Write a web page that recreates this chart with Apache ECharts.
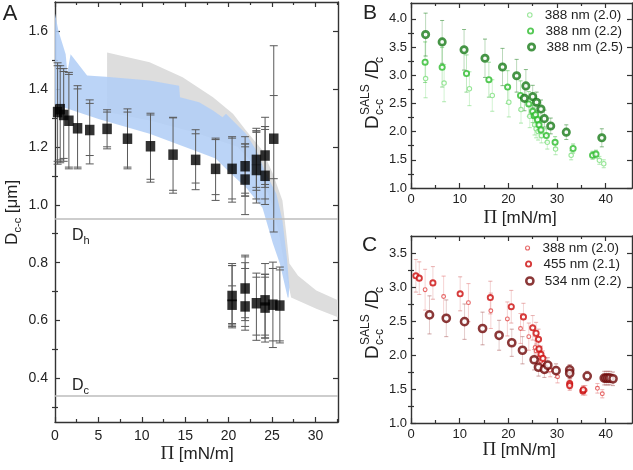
<!DOCTYPE html>
<html><head><meta charset="utf-8">
<script src="https://cdn.jsdelivr.net/npm/echarts@6/dist/echarts.min.js"></script>
<style>html,body{margin:0;padding:0;background:#fff}#c{width:633px;height:470px}</style>
</head><body><div id="c"></div>
<script>
// ---------- Panel A data ----------
const aX  = [0.3,0.6,1.0,1.6,2.6,4.0,6.0,8.35,11.0,13.6,16.2,18.5,20.4,21.9,21.9,23.2,23.2,24.2,24.2,25.2, 20.4,20.4,21.9,21.9,23.2,24.2,24.2,25.1,25.9];
const aY  = [1.32,1.33,1.31,1.29,1.264,1.258,1.262,1.228,1.202,1.173,1.155,1.124,1.124,1.133,1.087,1.155,1.12,1.17,1.10,1.228, 0.685,0.655,0.711,0.649,0.66,0.67,0.645,0.655,0.652];
const aLo = [1.14,1.145,1.15,1.124,1.124,1.141,1.193,1.124,1.078,1.04,1.052,1.015,1.009,0.966,1.03,1.006,1.05,1.001,1.06,0.906, 0.58,0.575,0.567,0.60,0.532,0.526,0.54,0.507,0.523];
const aHi = [1.49,1.48,1.47,1.457,1.411,1.362,1.328,1.331,1.316,1.302,1.259,1.23,1.235,1.235,1.21,1.264,1.255,1.302,1.27,1.549, 0.797,0.79,0.826,0.80,0.764,0.797,0.76,0.802,0.785];
const aLo2 = [1.15,1.155,1.16,1.13,1.13,1.17,1.2,1.13,1.088,1.05,1.075,1.035,1.02,1.03,1.04,1.02,1.06,1.02,1.07,1.09, 0.585,0.59,0.58,0.61,0.55,0.54,0.55,0.53,0.53];
const aHi2 = [1.48,1.47,1.46,1.45,1.40,1.35,1.32,1.32,1.31,1.30,1.245,1.225,1.23,1.21,1.20,1.255,1.25,1.27,1.26,1.377, 0.79,0.72,0.82,0.78,0.75,0.76,0.75,0.78,0.775];

const grayUpX = [6.0, 6.0, 10.9, 14.7, 18.2, 20.5, 22.0, 23.9, 25.1, 26.2, 26.6, 27.0, 28.0, 30.1, 32.6];
const grayUpY = [1.32, 1.526, 1.492, 1.44, 1.371, 1.314, 1.256, 1.187, 1.107, 1.015, 0.911, 0.797, 0.755, 0.704, 0.67];
const grayLoX = [32.6, 30.1, 27.2, 26.5, 25.8, 25.0, 23.5, 21.0, 16.0, 11.0];
const grayLoY = [0.612, 0.641, 0.68, 0.78, 0.90, 1.0, 1.12, 1.2, 1.25, 1.29];

const blueUpX = [0, 0.4, 1.23, 1.42, 1.8, 3.7, 5.85, 8.9, 10.9, 14.3, 14.4, 16.6, 18.2, 19.3, 19.7, 20.5, 22.0, 23.2, 24.3, 25.5, 26.2, 26.7, 27.0, 26.9];
const blueUpY = [1.66, 1.60, 1.52, 1.457, 1.52, 1.446, 1.442, 1.434, 1.429, 1.411, 1.371, 1.354, 1.325, 1.302, 1.314, 1.29, 1.245, 1.187, 1.107, 1.038, 0.946, 0.82, 0.716, 0.68];
const blueLoX = [26.8, 25.9, 25.1, 23.9, 22.0, 20.1, 18.5, 16.6, 10.9, 5.1, 0];
const blueLoY = [0.68, 0.797, 0.866, 0.99, 1.06, 1.112, 1.16, 1.181, 1.245, 1.295, 1.346];

const hLineVals = [0.952, 0.34];

// ---------- Panel B data ----------
const b20X = [3.0, 6.8, 12.0, 16.7, 20.1, 22.6, 24.4, 25.4, 25.7, 26.1, 26.8, 28.0, 29.7, 32.9, 38.7, 39.6];
const b20Y = [2.94, 2.86, 2.76, 2.64, 2.52, 2.39, 2.27, 2.12, 2.05, 2.0, 1.93, 1.81, 1.69, 1.58, 1.49, 1.43];
const b20E = [0.34, 0.33, 0.3, 0.28, 0.26, 0.24, 0.2, 0.18, 0.16, 0.15, 0.13, 0.12, 0.1, 0.08, 0.07, 0.07];
const b22X = [2.9, 6.4, 11.4, 16.0, 19.85, 22.5, 24.2, 25.0, 25.3, 25.6, 26.0, 26.3, 26.7, 27.8, 29.6, 33.3, 37.3, 38.0];
const b22Y = [3.23, 3.14, 3.03, 2.92, 2.79, 2.64, 2.49, 2.36, 2.28, 2.30, 2.21, 2.12, 2.03, 1.93, 1.81, 1.70, 1.58, 1.60];
const b22E = [0.36, 0.35, 0.33, 0.31, 0.29, 0.26, 0.22, 0.2, 0.18, 0.18, 0.16, 0.15, 0.14, 0.12, 0.1, 0.08, 0.07, 0.07];
const b25X = [3.0, 6.4, 10.9, 15.2, 18.8, 21.7, 23.3, 23.6, 25.0, 25.8, 26.7, 27.4, 28.7, 31.9, 39.2];
const b25Y = [3.72, 3.59, 3.45, 3.30, 3.145, 2.99, 2.59, 2.81, 2.62, 2.52, 2.40, 2.23, 2.10, 1.99, 1.89];
const b25E = [0.38, 0.38, 0.36, 0.34, 0.33, 0.29, 0.22, 0.29, 0.2, 0.18, 0.16, 0.15, 0.14, 0.13, 0.16];

// ---------- Panel C data ----------
const c20X = [2.9, 6.7, 11.8, 16.4, 19.8, 22.5, 24.2, 25.5, 25.7, 26.4, 26.7, 27.5, 28.6, 30.1, 32.7, 35.8, 38.3, 39.3];
const c20Y = [2.96, 2.86, 2.77, 2.65, 2.53, 2.39, 2.27, 2.11, 2.06, 1.97, 1.91, 1.85, 1.78, 1.68, 1.58, 1.48, 1.51, 1.43];
const c20E = [0.3, 0.3, 0.28, 0.26, 0.25, 0.22, 0.2, 0.16, 0.15, 0.13, 0.12, 0.11, 0.1, 0.09, 0.08, 0.07, 0.07, 0.06];
const c21X = [1.0, 1.7, 4.5, 10.1, 16.3, 20.6, 23.1, 25.0, 25.7, 26.2, 26.3, 26.7, 27.1, 32.6, 32.6, 35.3, 35.4];
const c21Y = [3.165, 3.13, 3.06, 2.90, 2.845, 2.71, 2.56, 2.40, 2.32, 2.23, 2.09, 2.01, 1.95, 1.58, 1.55, 1.47, 1.49];
const c21E = [0.24, 0.24, 0.24, 0.25, 0.24, 0.24, 0.2, 0.18, 0.16, 0.15, 0.13, 0.12, 0.11, 0.07, 0.07, 0.06, 0.06];
const c22X = [3.8, 7.25, 11.0, 14.7, 18.1, 20.7, 22.9, 25.3, 26.2, 27.4, 28.1, 29.8, 32.6, 32.6, 36.2, 39.7, 40.1, 40.5, 40.9, 41.5];
const c22Y = [2.59, 2.54, 2.49, 2.39, 2.29, 2.18, 2.07, 1.93, 1.82, 1.79, 1.85, 1.77, 1.78, 1.73, 1.69, 1.66, 1.66, 1.66, 1.66, 1.65];
const c22E = [0.28, 0.27, 0.26, 0.24, 0.22, 0.2, 0.2, 0.15, 0.13, 0.12, 0.11, 0.1, 0.08, 0.08, 0.07, 0.1, 0.1, 0.1, 0.1, 0.1];

// ---------- Tick values ----------
const aXTicks = [0,5,10,15,20,25,30];
const aXMinor = [2.5,7.5,12.5,17.5,22.5,27.5,32.5];
const aYTicks = [0.4,0.6,0.8,1.0,1.2,1.4,1.6];
const aYMinor = [0.3,0.5,0.7,0.9,1.1,1.3,1.5];
const bcXTicks = [0,10,20,30,40];
const bcXMinor = [5,15,25,35];
const bYTicks = [1.0,1.5,2.0,2.5,3.0,3.5,4.0];
const bYMinor = [1.25,1.75,2.25,2.75,3.25,3.75];
const cYTicks = [1.0,1.5,2.0,2.5,3.0,3.5];
const cYMinor = [1.25,1.75,2.25,2.75,3.25];

const legendNames = {B20:'388 nm (2.0)', B22:'388 nm (2.2)', B25:'388 nm (2.5)', C20:'388 nm (2.0)', C21:'455 nm (2.1)', C22:'534 nm (2.2)'};

// ---------- Build ----------
const FONT = '"Liberation Sans", Arial, sans-serif';
const SERIF = '"Liberation Serif", "Times New Roman", serif';
const AX = '#333';
const xAxes = [], yAxes = [];
function addAxes(g, xr, yr, xMaj, xMin, yMaj, yMin, fs, yFmt, xm, ym) {
  const line = {show:true, onZero:false, lineStyle:{color:AX, width:1.4}};
  const tick = (vals, len) => ({show:true, inside:true, length:len, customValues:vals, lineStyle:{color:AX, width:1.2}});
  const lbl = (vals, fmt, m) => ({show:true, customValues:vals, formatter:fmt, fontSize:fs, color:'#222', fontFamily:FONT, margin:m});
  const base = (r) => ({type:'value', gridIndex:g, min:r[0], max:r[1], splitLine:{show:false}});
  xAxes.push(
    Object.assign(base(xr), {position:'bottom', axisLine:line, axisTick:tick(xMaj,5), axisLabel:lbl(xMaj, v=>String(v), xm)}),
    Object.assign(base(xr), {position:'top', axisLine:line, axisTick:tick(xMaj,5), axisLabel:{show:false}}),
    Object.assign(base(xr), {position:'bottom', axisLine:{show:false}, axisTick:tick(xMin,3), axisLabel:{show:false}}),
    Object.assign(base(xr), {position:'top', axisLine:{show:false}, axisTick:tick(xMin,3), axisLabel:{show:false}})
  );
  yAxes.push(
    Object.assign(base(yr), {position:'left', axisLine:line, axisTick:tick(yMaj,5), axisLabel:lbl(yMaj, yFmt, ym)}),
    Object.assign(base(yr), {position:'right', axisLine:line, axisTick:tick(yMaj,5), axisLabel:{show:false}}),
    Object.assign(base(yr), {position:'left', axisLine:{show:false}, axisTick:tick(yMin,3), axisLabel:{show:false}}),
    Object.assign(base(yr), {position:'right', axisLine:{show:false}, axisTick:tick(yMin,3), axisLabel:{show:false}})
  );
}
const f1 = v => v.toFixed(1);
addAxes(0, [0,32.6], [0.25,1.7], aXTicks, aXMinor, aYTicks, aYMinor, 14, f1, 7, 7);
addAxes(1, [0,45.4], [1.0,4.28], bcXTicks, bcXMinor, bYTicks, bYMinor, 13, f1, 5, 4);
addAxes(2, [0,45.4], [1.0,3.75], bcXTicks, bcXMinor, cYTicks, cYMinor, 13, f1, 5, 4);

function band(upX, upY, loX, loY, fill, ai, z) {
  const pts = upX.map((x,i)=>[x, upY[i]]).concat(loX.map((x,i)=>[x, loY[i]]));
  return {type:'custom', xAxisIndex:ai, yAxisIndex:ai, z:z, silent:true, data:[[pts[0][0], pts[0][1]]],
    renderItem:(p, api) => ({type:'polygon', shape:{points: pts.map(pt => api.coord(pt))}, style:{fill:fill}})};
}
function errBars(xs, lo, hi, color, cap, ai, z, lo2, hi2, width) {
  const data = xs.map((x,i)=>[x, lo[i], hi[i], lo2 ? lo2[i] : lo[i], hi2 ? hi2[i] : hi[i]]);
  return {type:'custom', xAxisIndex:ai, yAxisIndex:ai, z:z, silent:true, data:data, encode:{x:0, y:[1,2]},
    renderItem:(p, api) => {
      const x = api.value(0);
      const ys = [api.value(1), api.value(2), api.value(3), api.value(4)].map(v => api.coord([x, v]));
      const st = {stroke:color, lineWidth:width || 1};
      const ch = [{type:'line', shape:{x1:ys[0][0], y1:ys[0][1], x2:ys[1][0], y2:ys[1][1]}, style:st}];
      ys.forEach(q => ch.push({type:'line', shape:{x1:q[0]-cap, y1:q[1], x2:q[0]+cap, y2:q[1]}, style:st}));
      return {type:'group', children:ch};
    }};
}
function symErr(xs, ys, es) {
  return [xs.map((x,i)=>ys[i]-es[i]), xs.map((x,i)=>ys[i]+es[i])];
}
function ring(name, xs, ys, color, size, bw, ai, z) {
  return {type:'scatter', name:name, xAxisIndex:ai, yAxisIndex:ai, z:z, symbol:'circle', symbolSize:size,
    data: xs.map((x,i)=>[x, ys[i]]), itemStyle:{color:'#fff', borderColor:color, borderWidth:bw}, emphasis:{disabled:true}};
}

const series = [];
series.push(band(grayUpX, grayUpY, grayLoX, grayLoY, '#dddddd', 0, 1));
series.push(band(blueUpX, blueUpY, blueLoX, blueLoY, 'rgba(178,206,246,0.88)', 0, 2));
series.push({type:'line', xAxisIndex:0, yAxisIndex:0, data:[], z:3, silent:true,
  markLine:{silent:true, symbol:['none','none'], label:{show:false}, lineStyle:{color:'#bdbdbd', width:1.6, type:'solid'},
    data: hLineVals.map(v => ({yAxis:v}))}});
series.push(errBars(aX, aLo, aHi, '#5a5a5a', 4, 0, 4, aLo2, aHi2, 1));
series.push({type:'scatter', xAxisIndex:0, yAxisIndex:0, z:5, symbol:'rect', symbolSize:[9.5,10.5],
  data: aX.map((x,i)=>[x, aY[i]]), itemStyle:{color:'#000'}, emphasis:{disabled:true}});

// Panel B
const gB = ['#7ee07e', '#2cbb2c', '#187a18'];
const eB20 = symErr(b20X, b20Y, b20E), eB22 = symErr(b22X, b22Y, b22E), eB25 = symErr(b25X, b25Y, b25E);
series.push(errBars(b20X, eB20[0], eB20[1], 'rgba(130,220,130,0.35)', 2, 4, 2));
series.push(errBars(b22X, eB22[0], eB22[1], 'rgba(60,190,60,0.3)', 2, 4, 2));
series.push(errBars(b25X, eB25[0], eB25[1], 'rgba(30,130,30,0.3)', 2, 4, 2));
series.push(ring('B20', b20X, b20Y, gB[0], 4.4, 1.1, 4, 5));
series.push(ring('B22', b22X, b22Y, gB[1], 5.2, 1.9, 4, 6));
series.push(ring('B25', b25X, b25Y, gB[2], 6.4, 2.7, 4, 7));

// Panel C
const rC = ['#e04040', '#cc0a0a', '#6e0606'];
const eC20 = symErr(c20X, c20Y, c20E), eC21 = symErr(c21X, c21Y, c21E), eC22 = symErr(c22X, c22Y, c22E);
series.push(errBars(c20X, eC20[0], eC20[1], 'rgba(230,130,130,0.35)', 2, 8, 2));
series.push(errBars(c21X, eC21[0], eC21[1], 'rgba(215,110,110,0.3)', 2, 8, 2));
series.push(errBars(c22X, eC22[0], eC22[1], 'rgba(170,90,90,0.3)', 2, 8, 2));
series.push(ring('C20', c20X, c20Y, rC[0], 3.8, 1.1, 8, 5));
series.push(ring('C21', c21X, c21Y, rC[1], 5.2, 1.9, 8, 6));
series.push(ring('C22', c22X, c22Y, rC[2], 7.2, 2.5, 8, 7));

function leg(name, left, top, size, color, bw) {
  return {show:true, left:left, top:top, orient:'vertical', itemWidth:20, itemHeight:size, itemGap:0, selectedMode:false,
    padding:0, formatter: n => legendNames[n], textStyle:{fontSize:13.5, color:'#222', fontFamily:FONT},
    data:[{name:name, icon:'circle', itemStyle:{color:'#fff', borderColor:color, borderWidth:bw}}]};
}
const legends = [
  leg('B20', 527, 8, 4.5, gB[0], 1.1), leg('B22', 527, 24, 5.2, gB[1], 1.9), leg('B25', 527, 40, 6.4, gB[2], 2.7),
  leg('C20', 525, 241, 4, rC[0], 1.1), leg('C21', 525, 257, 5.2, rC[1], 1.9), leg('C22', 525, 274, 7.2, rC[2], 2.5)
];

function txt(x, y, text, size, opts) {
  return Object.assign({type:'text', x:x, y:y, silent:true, style:Object.assign({text:text, fontSize:size, fontFamily:FONT, fill:'#222', textAlign:'center', textVerticalAlign:'middle'}, opts || {})});
}
function xTitle(x, y) {
  return {type:'text', x:x, y:y, silent:true, style:{text:'{p|Π} [mN/m]', fontSize:17, fontFamily:FONT, fill:'#222', textAlign:'center', textVerticalAlign:'middle',
    rich:{p:{fontFamily:SERIF, fontSize:19, fill:'#222'}}}};
}
function yTitleSALS(x, y) {
  const L = (lx, ly, t, s) => ({type:'text', x:lx, y:ly, silent:true, style:{text:t, fontSize:s, fontFamily:FONT, fill:'#222', textAlign:'left', textVerticalAlign:'middle'}});
  return {type:'group', x:x, y:y, rotation:Math.PI/2, children:[
    L(0, 0, 'D', 19), L(14, -7, 'SALS', 12), L(14, 6.5, 'c-c', 12), L(45, 0, ' /D', 19), L(66, 6.5, 'c', 12)
  ]};
}
function yTitleA(x, y) {
  const L = (lx, ly, t, s) => ({type:'text', x:lx, y:ly, silent:true, style:{text:t, fontSize:s, fontFamily:FONT, fill:'#222', textAlign:'left', textVerticalAlign:'middle'}});
  return {type:'group', x:x, y:y, rotation:Math.PI/2, children:[
    L(0, 0, 'D', 17), L(12.5, 5.5, 'c-c', 11), L(27, 0, ' [μm]', 17)
  ]};
}
function sub(x, y, main, s) {
  const L = (lx, ly, t, sz) => ({type:'text', x:lx, y:ly, silent:true, style:{text:t, fontSize:sz, fontFamily:FONT, fill:'#222', textAlign:'left', textVerticalAlign:'middle'}});
  return {type:'group', x:x, y:y, children:[L(0, 0, main, 16), L(11.5, 5, s, 11)]};
}

const graphic = [
  txt(10, 14, 'A', 22), txt(370, 13, 'B', 21), txt(369.5, 245, 'C', 21),
  xTitle(197, 454), xTitle(520, 218), xTitle(519, 450),
  yTitleA(12, 245), yTitleSALS(373, 129), yTitleSALS(373, 359),
  sub(72, 236, 'D', 'h'), sub(72, 386, 'D', 'c')
];

const chart = echarts.init(document.getElementById('c'), null, {renderer:'canvas'});
chart.setOption({
  animation:false,
  backgroundColor:'#fff',
  grid:[
    {left:55, top:2, width:283, height:420, containLabel:false, outerBoundsMode:'none'},
    {left:411, top:3, width:221, height:185, containLabel:false, outerBoundsMode:'none'},
    {left:411, top:236, width:221, height:187, containLabel:false, outerBoundsMode:'none'}
  ],
  xAxis: xAxes, yAxis: yAxes,
  legend: legends,
  series: series,
  graphic: graphic
});
</script></body></html>
